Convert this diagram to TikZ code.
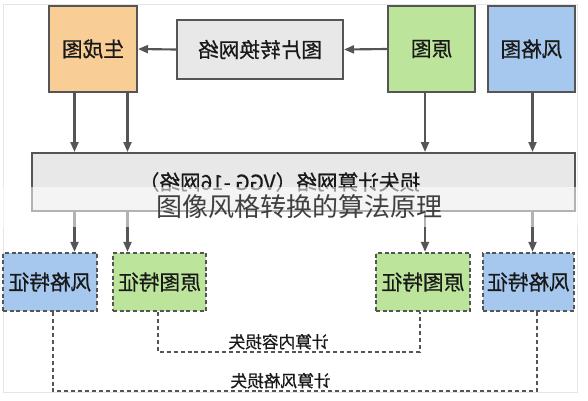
\documentclass[tikz,border=0pt]{standalone}
\usepackage{fontspec}
\setmainfont{Noto Sans CJK SC}
\newfontfamily\diagfont{Noto Sans CJK SC}[FakeBold=0.6]
\usepackage{graphicx}
\usepackage{xcolor}
\usetikzlibrary{calc}
\usetikzlibrary{arrows.meta}

\definecolor{genorange}{HTML}{F8CD96}
\definecolor{netgray}{HTML}{E8E8E8}
\definecolor{origgreen}{HTML}{BDE49B}
\definecolor{styleblue}{HTML}{A6C8EE}
\definecolor{edgegray}{HTML}{555555}

\newcommand{\mirror}[1]{\reflectbox{#1}}

\begin{document}
\begin{tikzpicture}[x=0.75pt,y=-0.75pt]
    \tikzstyle{frame}=[draw=black!10,line width=0.6pt]
    \tikzstyle{box}=[draw=edgegray,line width=1.5pt,inner sep=0pt,text=black!90,font=\diagfont\fontsize{15.5}{17}\selectfont]
    \tikzstyle{feature}=[box,dash pattern=on 3pt off 2pt,line width=1.8pt]
    \tikzstyle{arrow}=[-{Triangle[length=7.5pt,width=6pt]},line width=1.6pt,color=edgegray]
    \tikzstyle{lossline}=[dash pattern=on 3pt off 2.2pt,line width=1.8pt,color=edgegray]
    \tikzstyle{loss text}=[black!90,above=0pt,inner sep=1pt,font=\diagfont\fontsize{12.5}{14}\selectfont]

    \useasboundingbox (0,0) rectangle (588,400);
    \draw[style=frame] (3,4) rectangle (577,392);

    % Columns of the arrows and loss lines
    \coordinate (colA) at (74.5,0);
    \coordinate (colB) at (127.5,0);
    \coordinate (colC) at (425,0);
    \coordinate (colD) at (532.5,0);
    \coordinate (cl1) at (158,0);
    \coordinate (cl2) at (420,0);
    \coordinate (sl1) at (53,0);
    \coordinate (sl2) at (537,0);
    \coordinate (contentrow) at (0,352);
    \coordinate (stylerow) at (0,391);

    % Top row
    \node[style=box,fill=genorange,minimum width=66pt,minimum height=64.5pt] (gen) at (93,49) {\mirror{生成图}};
    \node[style=box,fill=netgray,minimum width=124.5pt,minimum height=44.25pt] (trans) at (260,49.5) {\mirror{图片转换网络}};
    \node[style=box,fill=origgreen,minimum width=65.25pt,minimum height=64.5pt] (orig) at (431.5,49) {\mirror{原图}};
    \node[style=box,fill=styleblue,minimum width=65.25pt,minimum height=64.5pt] (styleimg) at (531.5,49) {\mirror{风格图}};

    % Loss network
    \node[style=box,fill=netgray,minimum width=407.25pt,minimum height=43.5pt] (loss) at (303.5,182) {\mirror{损失计算网络（VGG -16网络）}\kern36pt\relax};

    % Features
    \node[style=feature,fill=styleblue,minimum width=70.5pt,minimum height=43.5pt] (sfL) at (50,282) {\mirror{风格特征}};
    \node[style=feature,fill=origgreen,minimum width=69.75pt,minimum height=43.5pt] (ofL) at (159.5,282) {\mirror{原图特征}};
    \node[style=feature,fill=origgreen,minimum width=70.5pt,minimum height=43.5pt] (ofR) at (423,282) {\mirror{原图特征}};
    \node[style=feature,fill=styleblue,minimum width=68.25pt,minimum height=43.5pt] (sfR) at (528.5,282) {\mirror{风格特征}};

    % Arrows
    \draw[style=arrow] (orig.west) -- (trans.east);
    \draw[style=arrow] (trans.west) -- (gen.east);
    \draw[style=arrow] (gen.south -| colA) -- (loss.north -| colA);
    \draw[style=arrow] (gen.south -| colB) -- (loss.north -| colB);
    \draw[style=arrow] (orig.south -| colC) -- (loss.north -| colC);
    \draw[style=arrow] (styleimg.south -| colD) -- (loss.north -| colD);
    \draw[style=arrow] (loss.south -| colA) -- (sfL.north -| colA);
    \draw[style=arrow] (loss.south -| colB) -- (ofL.north -| colB);
    \draw[style=arrow] (loss.south -| colC) -- (ofR.north -| colC);
    \draw[style=arrow] (loss.south -| colD) -- (sfR.north -| colD);

    % Content loss
    \draw[style=lossline] (ofL.south -| cl1) -- (contentrow -| cl1)
                          -- node[style=loss text,pos=0.46] {\mirror{计算内容损失}} (contentrow -| cl2)
                          -- (ofR.south -| cl2);

    % Style loss
    \draw[style=lossline] (sfL.south -| sl1) -- (stylerow -| sl1)
                          -- node[style=loss text,pos=0.47] {\mirror{计算风格损失}} (stylerow -| sl2)
                          -- (sfR.south -| sl2);

    % Caption band
    \fill[white,opacity=0.55] (0,187) rectangle (588,227);
    \node[text=black!75,font=\fontsize{19.5}{22}\selectfont] (caption) at (299,207) {图像风格转换的算法原理};

\end{tikzpicture}
\end{document}
